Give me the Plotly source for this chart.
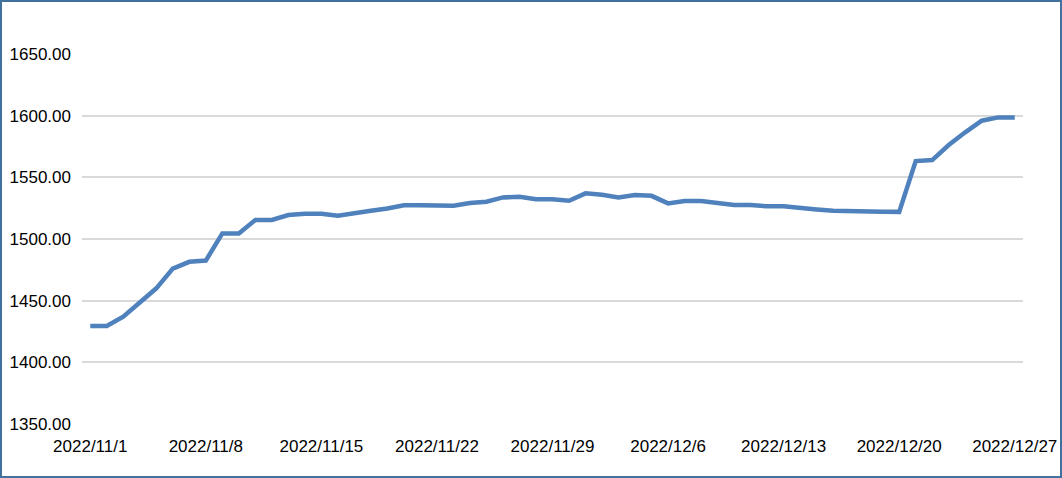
import pandas as pd
import plotly.graph_objects as go

start_date = "2022-11-01"
values = [
    1429.5, 1429.5, 1437.0, 1448.0, 1460.0, 1476.0, 1481.5, 1482.5, 1504.5, 1504.5,
    1515.4, 1515.4, 1519.4, 1520.5, 1520.5, 1518.9, 1521.3, 1522.9, 1524.8, 1527.3,
    1527.3, 1527.3, 1527.0, 1529.2, 1530.2, 1533.7, 1534.3, 1532.2, 1532.2, 1531.0,
    1537.0, 1535.8, 1533.7, 1535.6, 1535.0, 1528.9, 1530.8, 1530.8, 1528.9, 1527.5,
    1527.5, 1526.5, 1526.5, 1525.7, 1524.0, 1523.0, 1523.0, 1522.6, 1522.1, 1522.0,
    1563.2, 1564.0, 1576.2, 1586.5, 1595.9, 1598.6, 1598.6,
]
dates = pd.date_range(start_date, periods=len(values), freq="D")

tick_dates = ["2022-11-01", "2022-11-08", "2022-11-15", "2022-11-22", "2022-11-29",
              "2022-12-06", "2022-12-13", "2022-12-20", "2022-12-27"]
tick_labels = ["2022/11/1", "2022/11/8", "2022/11/15", "2022/11/22", "2022/11/29",
               "2022/12/6", "2022/12/13", "2022/12/20", "2022/12/27"]
y_ticks = [1350, 1400, 1450, 1500, 1550, 1600, 1650]
y_labels = ["1350.00", "1400.00", "1450.00", "1500.00", "1550.00", "1600.00", "1650.00"]

W, H = 1062, 478
ml, mr, mt, mb = 82, 39, 54, 54
pw, ph = W - ml - mr, H - mt - mb

fig = go.Figure()
fig.add_trace(go.Scatter(
    x=dates, y=values, mode="lines",
    line=dict(color="#4F81BD", width=4.5),
    hoverinfo="x+y",
))

font = dict(family="Liberation Sans, Arial, sans-serif", size=17, color="#000000")

fig.update_layout(
    width=W, height=H,
    margin=dict(l=ml, r=mr, t=mt, b=mb, pad=0, autoexpand=False),
    paper_bgcolor="white", plot_bgcolor="white",
    showlegend=False,
    font=font,
    xaxis=dict(
        range=["2022-10-31 12:00", "2022-12-27 12:00"],
        tickvals=tick_dates, ticktext=tick_labels,
        showgrid=False, zeroline=False, showline=False,
        ticks="", ticklabelstandoff=10, automargin=False,
        tickfont=font,
    ),
    yaxis=dict(
        range=[1350, 1650],
        tickvals=y_ticks, ticktext=y_labels,
        showgrid=True, gridcolor="#D9D9D9", gridwidth=1.5,
        zeroline=False, showline=False,
        ticks="", ticklabelstandoff=10, automargin=False,
        tickfont=font,
    ),
    shapes=[dict(
        type="rect", xref="paper", yref="paper",
        x0=(1 - ml) / pw, x1=(W - 1 - ml) / pw,
        y0=(mt + ph - (H - 1)) / ph, y1=(mt + ph - 1) / ph,
        line=dict(color="#41719C", width=2), fillcolor="rgba(0,0,0,0)",
        layer="above",
    )],
)

fig.write_html(
    "out.html",
    config={"displayModeBar": False},
    post_script="document.body.style.margin='0';document.body.style.overflow='hidden';",
)
